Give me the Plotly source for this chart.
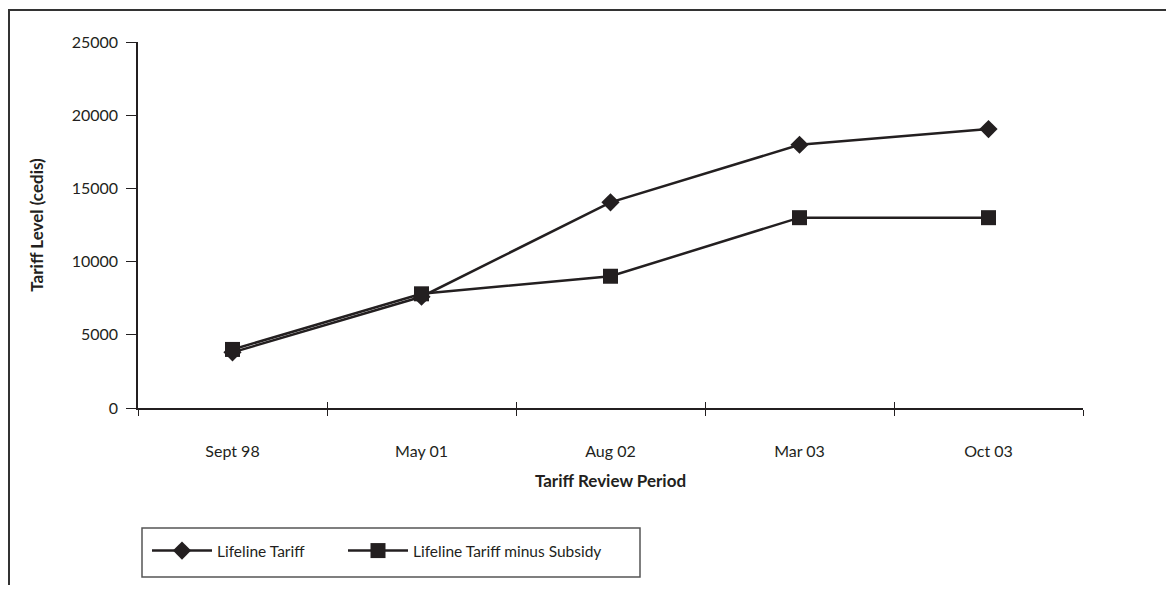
import plotly.graph_objects as go

periods = ["Sept 98", "May 01", "Aug 02", "Mar 03", "Oct 03"]
lifeline_tariff = [3800, 7600, 14050, 17980, 19050]
tariff_minus_subsidy = [4000, 7800, 9000, 13000, 13000]

INK = "#231f20"
FONT = "Lato, 'Noto Sans', sans-serif"

fig = go.Figure()
fig.add_trace(go.Scatter(
    x=periods, y=lifeline_tariff, name="Lifeline Tariff",
    mode="lines+markers",
    line=dict(color=INK, width=2.5),
    marker=dict(symbol="diamond", size=14, color=INK),
    legend="legend",
))
fig.add_trace(go.Scatter(
    x=periods, y=tariff_minus_subsidy, name="Lifeline Tariff minus Subsidy",
    mode="lines+markers",
    line=dict(color=INK, width=2.5),
    marker=dict(symbol="square", size=15, color=INK),
    legend="legend2",
))
# invisible trace on a twin axis so x ticks cross the axis line
fig.add_trace(go.Scatter(x=periods, y=lifeline_tariff, xaxis="x2",
                         mode="none", showlegend=False, hoverinfo="skip"))

# figure coords (page is offset by 8px body margin)
W, H = 1158, 577
L, R, T, B = 130, 1075, 34, 400
pw, ph = R - L, B - T

def px_x(v):
    return (v - L) / pw

def px_y(v):
    return (B - v) / ph

leg_common = dict(
    orientation="h", y=px_y(526), xanchor="left", yanchor="top",
    borderwidth=0, bgcolor="rgba(0,0,0,0)",
    itemwidth=60, font=dict(size=15.5),
)

fig.update_layout(
    width=W, height=H,
    margin=dict(l=L, r=W - R, t=T, b=H - B),
    paper_bgcolor="white", plot_bgcolor="white",
    font=dict(family=FONT, size=16, color=INK),
    showlegend=True,
    legend=dict(x=px_x(139), **leg_common),
    legend2=dict(x=px_x(335), **leg_common),
    xaxis=dict(
        type="category", range=[-0.5, 4.5],
        showline=True, linecolor=INK, linewidth=1.5,
        ticks="outside", tickson="boundaries", ticklen=6,
        tickcolor=INK, tickwidth=1.2,
        showgrid=False, zeroline=False,
        ticklabelstandoff=28,
        title=dict(text="<b>Tariff Review Period</b>",
                   font=dict(size=17), standoff=16),
    ),
    xaxis2=dict(
        type="category", range=[-0.5, 4.5], overlaying="x",
        anchor="y", side="bottom",
        showline=False, showgrid=False, zeroline=False,
        ticks="inside", tickson="boundaries", ticklen=6,
        tickcolor=INK, tickwidth=1.2, showticklabels=False,
    ),
    yaxis=dict(
        range=[0, 25000], dtick=5000, tickformat="d",
        showline=True, linecolor=INK, linewidth=1.5,
        ticks="outside", ticklen=10, tickcolor=INK, tickwidth=1.2,
        showgrid=False, zeroline=False,
        ticklabelstandoff=5,
        title=dict(text="<b>Tariff Level (cedis)</b>",
                   font=dict(size=17), standoff=24),
    ),
    shapes=[
        # outer frame
        dict(type="rect", xref="paper", yref="paper",
             x0=px_x(1), x1=px_x(1200), y0=px_y(620), y1=px_y(2),
             line=dict(color="#333", width=2), fillcolor="rgba(0,0,0,0)",
             layer="below"),
        # legend box
        dict(type="rect", xref="paper", yref="paper",
             x0=px_x(134), x1=px_x(632), y0=px_y(569), y1=px_y(520),
             line=dict(color="#555", width=1.5), fillcolor="rgba(0,0,0,0)",
             layer="below"),
    ],
)

fig.write_html("out.html")
